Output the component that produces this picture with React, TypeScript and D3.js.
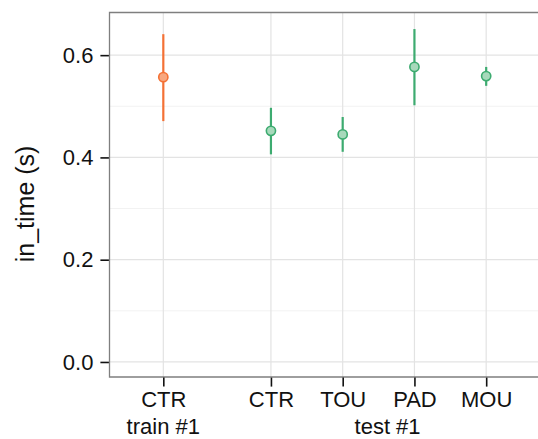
import * as d3 from "d3";
import React, { useEffect, useRef } from "react";

const groups = ["train #1", "test #1", "test #1", "test #1", "test #1"];
const conditions = ["CTR", "CTR", "TOU", "PAD", "MOU"];
const means = [0.557, 0.452, 0.445, 0.577, 0.559];
const lower = [0.471, 0.406, 0.411, 0.502, 0.54];
const upper = [0.641, 0.497, 0.479, 0.651, 0.577];
const yTicks = [0, 0.2, 0.4, 0.6];
const yMinor = [0.1, 0.3, 0.5];

const colors: Record<string, { stroke: string; fill: string }> = {
  "train #1": { stroke: "#F47135", fill: "#F8A77F" },
  "test #1": { stroke: "#3DAB70", fill: "#A7D9BB" },
};

const App = () => {
  const svgRef = useRef<SVGSVGElement>(null);

  useEffect(() => {
    const svg = d3.select(svgRef.current);
    svg.selectAll("*").remove();
    const width = 538;
    const height = 439;
    const margin = { top: 12.5, right: -2, bottom: 62, left: 109.5 };
    const font = "'Liberation Sans', Arial, Helvetica, sans-serif";

    // positions: one step per point, half-step gap between groups
    let p = 0;
    const pos = groups.map((g, i) => {
      p += i === 0 ? 1 : g !== groups[i - 1] ? 1.5 : 1;
      return p;
    });
    const data = conditions.map((c, i) => ({
      cond: c,
      group: groups[i],
      pos: pos[i],
      mean: means[i],
      lo: lower[i],
      hi: upper[i],
    }));

    const x = d3
      .scaleLinear()
      .domain([0.25, d3.max(pos)! + 0.75])
      .range([margin.left, width - margin.right]);
    const y = d3
      .scaleLinear()
      .domain([-0.0294, 0.6834])
      .range([height - margin.bottom, margin.top]);

    const panel = svg.append("g");
    panel
      .append("rect")
      .attr("x", margin.left)
      .attr("y", margin.top)
      .attr("width", width - margin.right - margin.left)
      .attr("height", height - margin.bottom - margin.top)
      .attr("fill", "#fff");

    // grid
    panel
      .selectAll(".minor")
      .data(yMinor)
      .enter()
      .append("line")
      .attr("x1", margin.left)
      .attr("x2", width - margin.right)
      .attr("y1", (d) => y(d))
      .attr("y2", (d) => y(d))
      .attr("stroke", "#f2f2f2")
      .attr("stroke-width", 1);
    panel
      .selectAll(".major")
      .data(yTicks)
      .enter()
      .append("line")
      .attr("x1", margin.left)
      .attr("x2", width - margin.right)
      .attr("y1", (d) => y(d))
      .attr("y2", (d) => y(d))
      .attr("stroke", "#e3e3e3")
      .attr("stroke-width", 1.2);
    panel
      .selectAll(".vgrid")
      .data(data)
      .enter()
      .append("line")
      .attr("x1", (d) => x(d.pos))
      .attr("x2", (d) => x(d.pos))
      .attr("y1", margin.top)
      .attr("y2", height - margin.bottom)
      .attr("stroke", "#e3e3e3")
      .attr("stroke-width", 1.2);

    // error bars
    svg
      .selectAll(".err")
      .data(data)
      .enter()
      .append("line")
      .attr("x1", (d) => x(d.pos))
      .attr("x2", (d) => x(d.pos))
      .attr("y1", (d) => y(d.lo))
      .attr("y2", (d) => y(d.hi))
      .attr("stroke", (d) => colors[d.group].stroke)
      .attr("stroke-width", 2.2);

    // points
    svg
      .selectAll(".pt")
      .data(data)
      .enter()
      .append("circle")
      .attr("cx", (d) => x(d.pos))
      .attr("cy", (d) => y(d.mean))
      .attr("r", 4.6)
      .attr("fill", (d) => colors[d.group].fill)
      .attr("stroke", (d) => colors[d.group].stroke)
      .attr("stroke-width", 1.6);

    // panel border
    svg
      .append("path")
      .attr(
        "d",
        `M${width - margin.right},${margin.top}H${margin.left}V${height - margin.bottom}H${width - margin.right}`
      )
      .attr("fill", "none")
      .attr("stroke", "#7f7f7f")
      .attr("stroke-width", 1.3);

    // y axis
    const yAxis = svg
      .append("g")
      .attr("transform", `translate(${margin.left - 0.6},0)`)
      .call(
        d3
          .axisLeft(y)
          .tickValues(yTicks)
          .tickFormat(d3.format(".1f"))
          .tickSize(8.5)
          .tickPadding(7)
      );
    yAxis.select(".domain").remove();
    yAxis.selectAll("line").attr("stroke", "#111").attr("stroke-width", 1.6);
    yAxis
      .selectAll("text")
      .attr("fill", "#111")
      .style("font-family", font)
      .style("font-size", "22px");

    // x axis
    const xAxis = svg
      .append("g")
      .attr("transform", `translate(0,${height - margin.bottom + 0.6})`)
      .call(
        d3
          .axisBottom(x)
          .tickValues(pos)
          .tickFormat((_, i) => conditions[i])
          .tickSize(9)
          .tickPadding(5)
      );
    xAxis.select(".domain").remove();
    xAxis.selectAll("line").attr("stroke", "#111").attr("stroke-width", 1.6);
    xAxis
      .selectAll("text")
      .attr("fill", "#111")
      .style("font-family", font)
      .style("font-size", "22px");

    // group labels
    const groupNames = Array.from(new Set(groups));
    svg
      .selectAll(".grp")
      .data(groupNames)
      .enter()
      .append("text")
      .attr("x", (g) => {
        const ps = data.filter((d) => d.group === g).map((d) => d.pos);
        return x(d3.mean(ps)!) + (ps.length > 1 ? 9 : 0);
      })
      .attr("y", 433.5)
      .attr("text-anchor", "middle")
      .attr("fill", "#111")
      .style("font-family", font)
      .style("font-size", "22px")
      .text((g) => g);

    // y title
    svg
      .append("text")
      .attr("transform", `translate(34,${y(0.309)}) rotate(-90)`)
      .attr("text-anchor", "middle")
      .attr("fill", "#111")
      .style("font-family", font)
      .style("font-size", "25px")
      .text("in_time (s)");
  }, []);

  return (
    <svg
      ref={svgRef}
      width="538"
      height="439"
      style={{ position: "absolute", left: 0, top: 0, background: "#fff" }}
    ></svg>
  );
};

export default App;
